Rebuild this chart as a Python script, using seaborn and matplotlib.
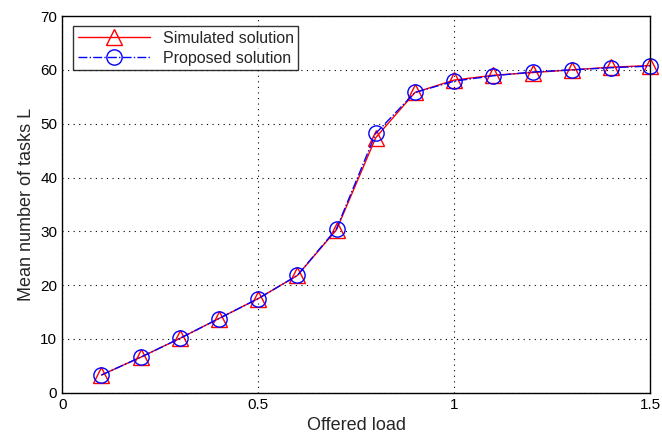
"""Mean number of tasks vs offered load: simulation vs proposed model."""
import matplotlib
matplotlib.use("Agg")
import matplotlib.pyplot as plt
import numpy as np
import pandas as pd
import seaborn as sns

sns.set_theme(style="white")
plt.rcParams["font.family"] = ["Liberation Sans", "DejaVu Sans"]

load = [0.1, 0.2, 0.3, 0.4, 0.5, 0.6, 0.7, 0.8, 0.9, 1.0, 1.1, 1.2, 1.3, 1.4, 1.5]
simulated = [3.3, 6.6, 10.1, 13.8, 17.5, 21.8, 30.3, 47.4, 55.8, 58.1, 59.0, 59.5, 60.0, 60.5, 60.8]
proposed = [3.3, 6.6, 10.1, 13.8, 17.5, 21.8, 30.5, 48.2, 55.8, 57.9, 58.9, 59.6, 60.0, 60.4, 60.7]

df = pd.DataFrame({"load": load, "Simulated solution": simulated, "Proposed solution": proposed})

fig = plt.figure(figsize=(6.62, 4.34), dpi=100)
ax = fig.add_axes([0.094, 0.095, 0.888, 0.868])

sns.lineplot(data=df, x="load", y="Simulated solution", ax=ax, color="red", lw=1.0,
             marker="^", markersize=11, markerfacecolor="none", markeredgecolor="red",
             markeredgewidth=1.0, label="Simulated solution", clip_on=False)
sns.lineplot(data=df, x="load", y="Proposed solution", ax=ax, color="blue", lw=1.0,
             linestyle="-.", marker="o", markersize=11, markerfacecolor="none",
             markeredgecolor="blue", markeredgewidth=1.0, label="Proposed solution",
             clip_on=False)

ax.set_xlim(0, 1.5)
ax.set_ylim(0, 70)
ax.set_xticks([0, 0.5, 1, 1.5])
ax.set_xticklabels(["0", "0.5", "1", "1.5"])
ax.set_yticks(np.arange(0, 71, 10))
ax.grid(True, color="black", linestyle=(0, (1, 4)), linewidth=0.8)
ax.tick_params(direction="in", length=4, labelsize=11, colors="black", width=0.8)
for s in ax.spines.values():
    s.set_color("black")
    s.set_linewidth(1.0)

ax.set_xlabel("Offered load", fontsize=13)
ax.set_ylabel("Mean number of tasks L", fontsize=13)

leg = ax.legend(loc="upper left", fontsize=11.5, frameon=True, fancybox=False,
                edgecolor="black", handlelength=4.5, borderpad=0.3, labelspacing=0.3,
                bbox_to_anchor=(0.005, 0.995))
leg.get_frame().set_linewidth(1.0)

fig.savefig("out.png", dpi=100)
